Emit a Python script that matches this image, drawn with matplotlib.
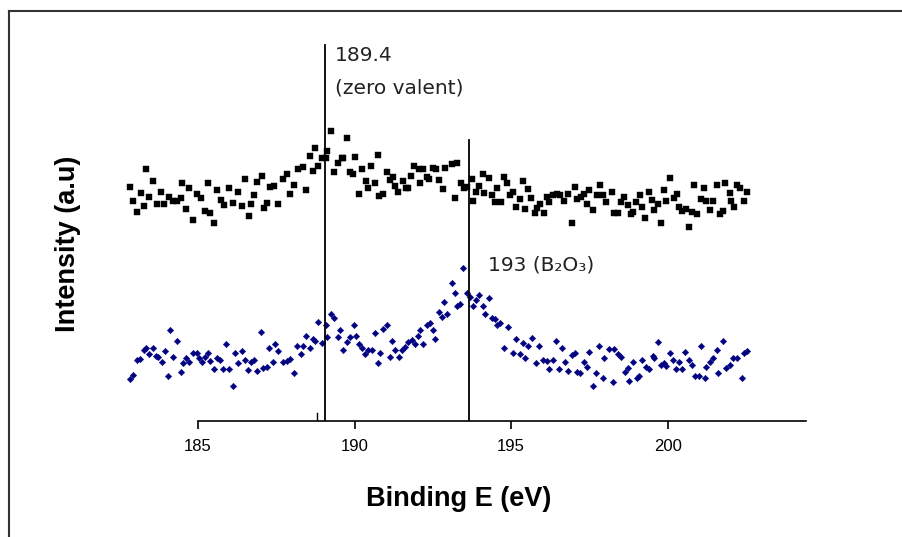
import matplotlib.pyplot as plt
from matplotlib.lines import Line2D

# Data (binding energy in eV, intensity in arbitrary units)
be_top = [182.83, 182.93, 183.04, 183.17, 183.27, 183.34, 183.44, 183.55, 183.68, 183.81,
          183.91, 184.08, 184.21, 184.34, 184.45, 184.49, 184.62, 184.72, 184.83, 184.96,
          185.09, 185.22, 185.33, 185.38, 185.51, 185.62, 185.73, 185.83, 186.00, 186.13,
          186.29, 186.41, 186.50, 186.64, 186.68, 186.79, 186.89, 187.04, 187.11, 187.20,
          187.30, 187.43, 187.57, 187.71, 187.83, 187.94, 188.07, 188.20, 188.35, 188.45,
          188.58, 188.68, 188.74, 188.84, 188.97, 189.09, 189.13, 189.24, 189.35, 189.48,
          189.59, 189.64, 189.75, 189.86, 189.96, 190.03, 190.13, 190.24, 190.36, 190.42,
          190.52, 190.65, 190.74, 190.79, 190.92, 191.03, 191.13, 191.22, 191.28, 191.40,
          191.54, 191.65, 191.72, 191.80, 191.91, 192.07, 192.09, 192.18, 192.33, 192.39,
          192.52, 192.60, 192.71, 192.82, 192.89, 193.11, 193.21, 193.27, 193.39, 193.50,
          193.60, 193.75, 193.79, 193.88, 193.99, 194.10, 194.14, 194.28, 194.38, 194.49,
          194.56, 194.67, 194.78, 194.88, 194.97, 195.05, 195.16, 195.27, 195.37, 195.45,
          195.55, 195.63, 195.77, 195.84, 195.93, 196.05, 196.14, 196.22, 196.33, 196.46,
          196.57, 196.69, 196.83, 196.94, 197.05, 197.12, 197.23, 197.33, 197.44, 197.50,
          197.63, 197.74, 197.84, 197.93, 198.04, 198.22, 198.29, 198.40, 198.51, 198.61,
          198.72, 198.82, 198.91, 198.99, 199.12, 199.18, 199.28, 199.39, 199.50, 199.57,
          199.68, 199.78, 199.89, 199.95, 200.06, 200.19, 200.29, 200.35, 200.45, 200.59,
          200.67, 200.77, 200.85, 200.95, 201.06, 201.17, 201.23, 201.36, 201.44, 201.57,
          201.66, 201.76, 201.84, 201.98, 202.02, 202.13, 202.23, 202.32, 202.45, 202.53]
int_top = [243, 229, 218, 237, 224, 261, 233, 249, 226, 238,
           226, 233, 229, 229, 232, 247, 221, 242, 210, 236,
           232, 219, 247, 217, 207, 240, 230, 225, 242, 227,
           238, 224, 251, 214, 226, 235, 248, 254, 222, 227,
           243, 244, 226, 251, 256, 236, 245, 261, 263, 240,
           274, 259, 282, 264, 272, 272, 279, 299, 258, 267,
           272, 272, 292, 258, 256, 273, 236, 261, 249, 242,
           264, 247, 275, 234, 236, 258, 250, 253, 244, 238,
           249, 242, 242, 254, 264, 261, 247, 261, 253, 251,
           262, 261, 250, 241, 262, 266, 232, 267, 247, 242,
           243, 251, 229, 238, 244, 256, 237, 252, 235, 228,
           242, 228, 253, 247, 235, 238, 223, 231, 249, 221,
           241, 232, 217, 222, 226, 217, 233, 228, 235, 236,
           235, 229, 236, 207, 243, 231, 233, 236, 226, 240,
           220, 235, 245, 235, 228, 238, 217, 217, 228, 233,
           225, 216, 218, 228, 235, 223, 212, 238, 230, 220,
           226, 207, 240, 229, 252, 232, 236, 223, 219, 221,
           203, 218, 245, 216, 231, 242, 229, 220, 229, 245,
           216, 219, 247, 237, 229, 223, 245, 242, 229, 238]

be_bottom = [182.83, 182.93, 183.04, 183.15, 183.27, 183.34, 183.44, 183.55, 183.66, 183.73,
             183.84, 183.95, 184.05, 184.11, 184.21, 184.34, 184.45, 184.51, 184.62, 184.72,
             184.85, 184.96, 185.04, 185.12, 185.22, 185.33, 185.38, 185.51, 185.62, 185.70,
             185.79, 185.89, 186.00, 186.13, 186.18, 186.29, 186.40, 186.50, 186.61, 186.68,
             186.79, 186.89, 187.00, 187.09, 187.20, 187.28, 187.41, 187.46, 187.57, 187.71,
             187.83, 187.94, 188.07, 188.17, 188.28, 188.35, 188.45, 188.58, 188.68, 188.74,
             188.84, 188.95, 189.09, 189.13, 189.24, 189.35, 189.48, 189.54, 189.62, 189.75,
             189.86, 189.98, 190.05, 190.13, 190.24, 190.35, 190.44, 190.55, 190.66, 190.74,
             190.81, 190.92, 191.03, 191.13, 191.20, 191.30, 191.41, 191.51, 191.61, 191.72,
             191.83, 191.93, 192.04, 192.09, 192.20, 192.31, 192.41, 192.50, 192.58, 192.71,
             192.80, 192.86, 192.95, 193.11, 193.21, 193.27, 193.37, 193.48, 193.59, 193.69,
             193.78, 193.88, 193.99, 194.10, 194.17, 194.28, 194.38, 194.49, 194.56, 194.65,
             194.78, 194.91, 195.05, 195.16, 195.27, 195.37, 195.45, 195.55, 195.66, 195.80,
             195.90, 196.03, 196.14, 196.22, 196.33, 196.44, 196.54, 196.62, 196.73, 196.83,
             196.94, 197.05, 197.12, 197.20, 197.33, 197.42, 197.50, 197.61, 197.72, 197.82,
             197.93, 197.97, 198.14, 198.25, 198.29, 198.40, 198.51, 198.64, 198.72, 198.78,
             198.89, 199.02, 199.10, 199.18, 199.31, 199.42, 199.53, 199.57, 199.68, 199.78,
             199.89, 199.95, 200.08, 200.17, 200.27, 200.35, 200.45, 200.56, 200.67, 200.77,
             200.88, 200.99, 201.06, 201.20, 201.23, 201.34, 201.46, 201.57, 201.62, 201.76,
             201.87, 201.98, 202.10, 202.23, 202.37, 202.45, 202.53]
int_bottom = [51, 55, 70, 71, 80, 82, 76, 82, 74, 73,
              68, 79, 54, 100, 73, 89, 58, 67, 72, 68,
              77, 77, 72, 68, 73, 77, 69, 61, 72, 70,
              61, 86, 61, 44, 77, 67, 79, 70, 60, 68,
              70, 59, 98, 62, 63, 82, 68, 86, 79, 68,
              69, 71, 57, 84, 76, 84, 94, 82, 91, 89,
              108, 87, 105, 93, 116, 112, 93, 100, 80, 88,
              93, 105, 94, 86, 82, 76, 80, 80, 97, 67,
              77, 101, 105, 73, 89, 80, 73, 80, 83, 88,
              90, 86, 94, 100, 86, 105, 107, 100, 91, 118,
              113, 128, 116, 147, 137, 124, 126, 162, 137, 133,
              124, 130, 135, 124, 116, 132, 112, 111, 105, 107,
              82, 103, 77, 91, 76, 87, 72, 84, 92, 67,
              84, 70, 69, 61, 70, 89, 61, 82, 68, 59,
              75, 77, 58, 57, 68, 63, 78, 44, 57, 84,
              52, 72, 81, 48, 81, 76, 73, 58, 62, 49,
              68, 52, 54, 70, 63, 61, 74, 72, 88, 65,
              67, 64, 77, 70, 61, 68, 61, 78, 70, 65,
              54, 54, 84, 52, 63, 68, 72, 80, 57, 89,
              62, 65, 72, 72, 52, 77, 79]

peak_lines = [189.05, 193.66]
peak_tops = [385, 290]
xticks = [185, 190, 195, 200]

plt.rcParams['font.family'] = ['Liberation Sans', 'DejaVu Sans']

fig = plt.figure(figsize=(9.03, 5.37), dpi=100)
ax = fig.add_axes([0.1329, 0.216, 0.7597, 0.728])

ax.plot(be_top, int_top, 's', color='black', ms=4.5, mec='black', mew=0.3)
ax.plot(be_bottom, int_bottom, 'D', color='#000080', ms=3.3, mec='#000080', mew=0.3)

# vertical markers for the two boron states
for x, top in zip(peak_lines, peak_tops):
    ax.plot([x, x], [9, top], color='black', lw=1.3)
ax.plot([188.80, 188.80], [9, 17], color='black', lw=1.0)

note = dict(fontsize=14.5, color='#222222', va='center', family=['DejaVu Sans'])
ax.text(189.38, 375, '189.4', **note)
ax.text(189.38, 342, '(zero valent)', **note)
ax.text(194.27, 165, '193 (B\u2082O\u2083)', **note)

ax.set_xlim(182.51, 204.42)
ax.set_ylim(9, 400)
ax.spines['top'].set_visible(False)
ax.spines['right'].set_visible(False)
ax.spines['left'].set_visible(False)
ax.spines['bottom'].set_bounds(185, 204.42)
ax.spines['bottom'].set_linewidth(1.2)
ax.set_yticks([])
ax.set_xticks(xticks)
ax.tick_params(axis='x', direction='out', length=6, width=1.2, labelsize=12, pad=7)

ax.set_xlabel('Binding E (eV)', fontsize=19.5, fontweight='bold')
ax.set_ylabel('Intensity (a.u)', fontsize=19.5, fontweight='bold')
ax.xaxis.set_label_coords(0.494, -0.166)
ax.yaxis.set_label_coords(-0.057, 0.453)

# frame around the figure (top and left edges)
fig.add_artist(Line2D([8.5 / 903, 1.0], [1 - 10.5 / 537, 1 - 10.5 / 537], color='#333333', lw=1.5))
fig.add_artist(Line2D([8.5 / 903, 8.5 / 903], [0.0, 1 - 10.5 / 537], color='#333333', lw=1.5))

plt.savefig("out.png", dpi=100)
